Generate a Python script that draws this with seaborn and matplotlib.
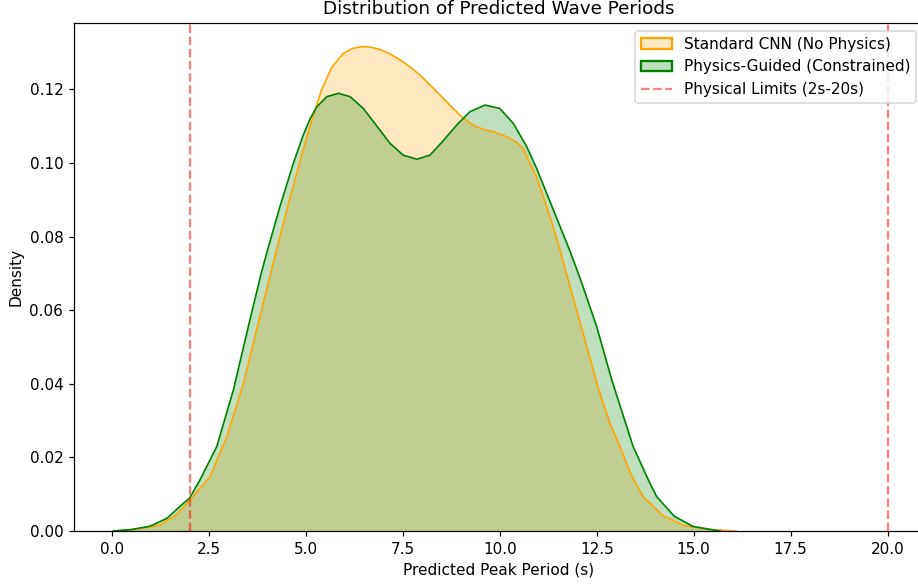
import matplotlib
matplotlib.use("Agg")
import matplotlib.pyplot as plt
from matplotlib.patches import Patch
from matplotlib.lines import Line2D
import seaborn as sns
import pandas as pd

# Density curve of the standard CNN predictions
cnn_x = [0.10, 0.60, 1.24, 1.67, 2.01, 2.53, 2.96, 3.39, 3.82, 4.07, 4.27, 4.59,
         4.76, 4.93, 5.15, 5.41, 5.66, 5.96, 6.20, 6.44, 6.70, 6.91, 7.17, 7.43,
         7.70, 7.94, 8.20, 8.46, 8.72, 8.97, 9.20, 9.40, 9.62, 9.83, 10.05, 10.26,
         10.45, 10.61, 10.78, 10.95, 11.15, 11.38, 11.55, 11.77, 12.15, 12.54,
         12.84, 13.10, 13.40, 13.70, 14.20, 14.73, 15.40, 16.10]
cnn_y = [0.0000, 0.0004, 0.0016, 0.0045, 0.0084, 0.0148, 0.0256, 0.0401, 0.0585,
         0.0690, 0.0775, 0.0905, 0.0970, 0.1035, 0.1115, 0.1200, 0.1258, 0.1297,
         0.1311, 0.1316, 0.1314, 0.1308, 0.1296, 0.1280, 0.1260, 0.1239, 0.1212,
         0.1184, 0.1156, 0.1130, 0.1110, 0.1098, 0.1090, 0.1085, 0.1076, 0.1067,
         0.1055, 0.1038, 0.0998, 0.0960, 0.0900, 0.0825, 0.0765, 0.0680, 0.0537,
         0.0388, 0.0293, 0.0229, 0.0150, 0.0093, 0.0042, 0.0016, 0.0004, 0.0000]

# Density curve of the physics-guided predictions
pg_x = [0.03, 0.50, 0.98, 1.41, 1.84, 2.00, 2.27, 2.70, 3.13, 3.56, 3.86, 4.03,
        4.33, 4.68, 4.93, 5.11, 5.28, 5.54, 5.84, 6.14, 6.48, 6.83, 7.17, 7.51,
        7.86, 8.20, 8.54, 8.89, 9.23, 9.62, 10.00, 10.35, 10.69, 10.95, 11.21,
        11.64, 11.83, 12.11, 12.50, 12.89, 13.44, 13.87, 14.05, 14.50, 14.99,
        15.68]
pg_y = [0.0000, 0.0004, 0.0013, 0.0034, 0.0075, 0.0089, 0.0139, 0.0229, 0.0383,
        0.0575, 0.0705, 0.0770, 0.0881, 0.1000, 0.1075, 0.1120, 0.1152, 0.1180,
        0.1189, 0.1180, 0.1148, 0.1100, 0.1053, 0.1021, 0.1010, 0.1021, 0.1060,
        0.1103, 0.1139, 0.1157, 0.1148, 0.1107, 0.1045, 0.0985, 0.0917, 0.0805,
        0.0755, 0.0675, 0.0555, 0.0410, 0.0229, 0.0130, 0.0093, 0.0040, 0.0012,
        0.0000]

limits = [2, 20]
labels = ["Standard CNN (No Physics)", "Physics-Guided (Constrained)",
          "Physical Limits (2s-20s)"]

DPI = 110
fig = plt.figure(figsize=(918 / DPI, 587 / DPI), dpi=DPI)
ax = fig.add_axes([74 / 918, 56 / 587, 850 / 918, 508 / 587])

df_cnn = pd.DataFrame({"x": cnn_x, "y": cnn_y})
df_pg = pd.DataFrame({"x": pg_x, "y": pg_y})

sns.lineplot(data=df_cnn, x="x", y="y", color="orange", lw=1.1, ax=ax, sort=False)
ax.fill_between(df_cnn["x"], df_cnn["y"], color="orange", alpha=0.25, lw=0)
sns.lineplot(data=df_pg, x="x", y="y", color="green", lw=1.1, ax=ax, sort=False)
ax.fill_between(df_pg["x"], df_pg["y"], color="green", alpha=0.25, lw=0)

for v in limits:
    ax.axvline(v, color="red", linestyle="--", alpha=0.5, lw=1.5)

ax.set_xlim(-0.98, 20.94)
ax.set_ylim(0, 0.138)
yt = [0, 0.02, 0.04, 0.06, 0.08, 0.10, 0.12]
ax.set_xticks([0, 2.5, 5, 7.5, 10, 12.5, 15, 17.5, 20])
ax.set_yticks(yt)
ax.set_yticklabels([f"{t:.2f}" for t in yt])
ax.set_xlabel("Predicted Peak Period (s)")
ax.set_ylabel("Density")
ax.set_title("Distribution of Predicted Wave Periods")

handles = [
    Patch(facecolor=(1.0, 0.647, 0.0, 0.25), edgecolor="orange", lw=1.5),
    Patch(facecolor=(0.0, 0.5, 0.0, 0.25), edgecolor="green", lw=1.5),
    Line2D([0], [0], color="red", linestyle="--", alpha=0.5, lw=1.5),
]
ax.legend(handles, labels, loc="upper right")

fig.savefig("out.png", dpi=DPI)
